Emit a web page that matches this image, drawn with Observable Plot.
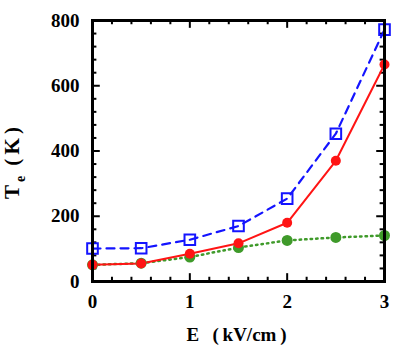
<!DOCTYPE html>
<html><head><meta charset="utf-8">
<script src="https://cdn.jsdelivr.net/npm/d3@7"></script>
<script src="https://cdn.jsdelivr.net/npm/@observablehq/plot@0.6"></script>
<style>
body{margin:0;background:#fff}
svg{font-family:"Liberation Serif","Times New Roman",serif;font-weight:bold}
</style>
</head><body><div id="chart"></div>
<script>
const E = [0, 0.5, 1, 1.5, 2, 2.5, 3];
const blueTe = [101, 102, 128, 170, 254, 453, 772];
const redTe = [51, 55, 85, 117, 180, 370, 665];
const greenTe = [51, 56, 75, 104, 126, 135, 141];
const xTicks = [0, 1, 2, 3];
const yTicks = [0, 200, 400, 600, 800];
const xMinor = [0.2, 0.4, 0.6, 0.8, 1.2, 1.4, 1.6, 1.8, 2.2, 2.4, 2.6, 2.8];
const yMinor = [40, 80, 120, 160, 240, 280, 320, 360, 440, 480, 520, 560, 640, 680, 720, 760];
const xLabel = "E\u2002\u2009(\u2009kV/cm\u2009)";
const yLabel = "Te(K)";

const rows = (ys) => E.map((x, i) => ({x, y: ys[i]}));
const blue = "#1414ff", red = "#ff1414", green = "#3f9a2a";

const chart = Plot.plot({
  width: 402, height: 354,
  marginLeft: 92, marginRight: 18, marginTop: 20, marginBottom: 73,
  style: {fontFamily: '"Liberation Serif","Times New Roman",serif', fontWeight: "bold", background: "white"},
  x: {domain: [0, 3]},
  y: {domain: [0, 800]},
  marks: [
    Plot.ruleX(xMinor, {y1: 0, y2: 13, stroke: "black", strokeWidth: 2}),
    Plot.ruleX(xMinor, {y1: 800, y2: 787, stroke: "black", strokeWidth: 2}),
    Plot.ruleX(xTicks, {y1: 0, y2: 24, stroke: "black", strokeWidth: 2}),
    Plot.ruleX(xTicks, {y1: 800, y2: 776, stroke: "black", strokeWidth: 2}),
    Plot.ruleY(yMinor, {x1: 0, x2: 0.045, stroke: "black", strokeWidth: 2}),
    Plot.ruleY(yMinor, {x1: 3, x2: 2.955, stroke: "black", strokeWidth: 2}),
    Plot.ruleY(yTicks, {x1: 0, x2: 0.08, stroke: "black", strokeWidth: 2}),
    Plot.ruleY(yTicks, {x1: 3, x2: 2.92, stroke: "black", strokeWidth: 2}),
    Plot.axisX({ticks: xTicks, tickSize: 0, tickPadding: 13, fontSize: 19, label: null, tickFormat: d3.format("d")}),
    Plot.axisY({ticks: yTicks, tickSize: 0, tickPadding: 13, fontSize: 19, label: null, tickFormat: d3.format("d")}),
    Plot.line(rows(greenTe), {x: "x", y: "y", stroke: green, strokeWidth: 2.5, strokeDasharray: "1.5,4", strokeLinecap: "round"}),
    Plot.line(rows(redTe), {x: "x", y: "y", stroke: red, strokeWidth: 2}),
    Plot.line(rows(blueTe), {x: "x", y: "y", stroke: blue, strokeWidth: 2.2, strokeDasharray: "8,6"}),
    Plot.dot(rows(greenTe), {x: "x", y: "y", fill: green, r: 5.5}),
    Plot.dot(rows(redTe), {x: "x", y: "y", fill: red, r: 5}),
    Plot.dot(rows(blueTe), {x: "x", y: "y", symbol: "square", stroke: blue, strokeWidth: 2, fill: "none", r: 6}),
    Plot.frame({stroke: "black", strokeWidth: 3}),
    Plot.text([xLabel], {frameAnchor: "bottom", dy: 59, dx: -2, fontSize: 19, fontWeight: "bold"}),
    Plot.text([yLabel], {frameAnchor: "left", dx: -80, dy: 48, rotate: -90, textAnchor: "start", fontSize: 21, fontWeight: "bold"})
  ]
});
document.getElementById("chart").appendChild(chart);
d3.select(chart).selectAll("text").filter(function() { return this.textContent === yLabel; }).each(function() {
  const t = d3.select(this);
  t.text(null);
  t.append("tspan").text("T");
  t.append("tspan").attr("dx", 3).attr("dy", 6).attr("font-size", 14).text("e");
  t.append("tspan").attr("dx", 10).attr("dy", -6).text("(\u2009K\u2009)");
});
</script>
</body></html>
